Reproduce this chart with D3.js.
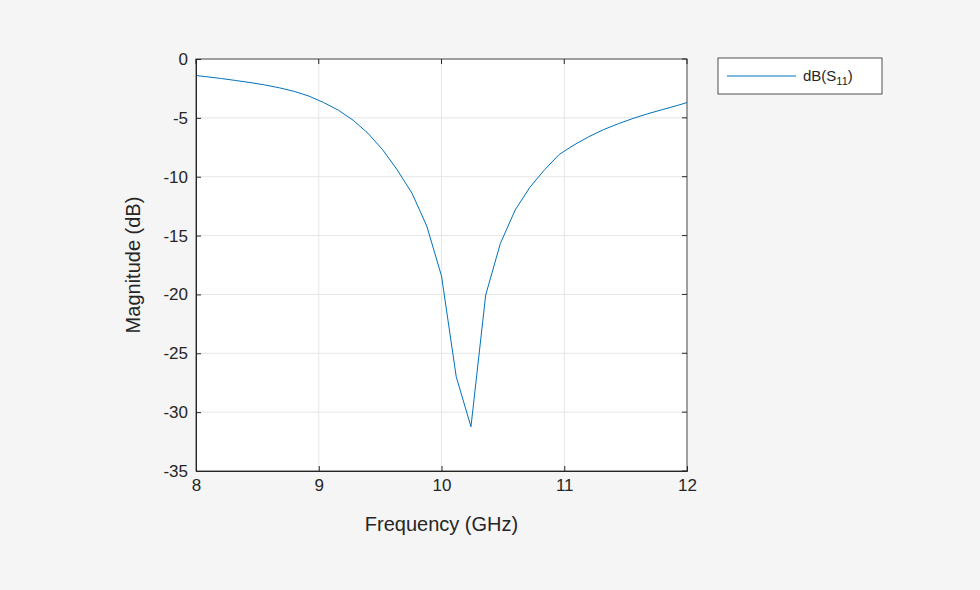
<!DOCTYPE html><html><head><meta charset="utf-8"><script src="https://cdn.jsdelivr.net/npm/d3@7"></script>
<style>body{margin:0;background:#f5f5f5}text{font-family:"Liberation Sans",Arial,sans-serif;fill:#262626}</style></head><body>
<svg id="c" width="980" height="590"></svg>
<script>
const freq=[8.0,8.08,8.2,8.32,8.44,8.56,8.68,8.8,8.92,9.04,9.16,9.28,9.4,9.52,9.64,9.76,9.88,10.0,10.12,10.24,10.36,10.48,10.6,10.72,10.84,10.96,11.08,11.2,11.32,11.44,11.56,11.68,11.8,11.92,12.0];
const s11=[-1.4,-1.5,-1.65,-1.82,-2.0,-2.2,-2.45,-2.75,-3.15,-3.7,-4.35,-5.2,-6.3,-7.7,-9.43,-11.41,-14.19,-18.43,-26.99,-31.24,-20.05,-15.66,-12.83,-10.9,-9.4,-8.1,-7.3,-6.6,-6.0,-5.5,-5.05,-4.65,-4.3,-3.95,-3.7];
const xTicks=[8,9,10,11,12];
const yTicks=[0,-5,-10,-15,-20,-25,-30,-35];
const svg=d3.select("#c");
const L=196,R=687,T=59,B=471;
const x=d3.scaleLinear().domain([8,12]).range([L,R]);
const y=d3.scaleLinear().domain([-35,0]).range([B,T]);
svg.append("rect").attr("x",L).attr("y",T).attr("width",R-L).attr("height",B-T).attr("fill","#fff");
const g=svg.append("g");
xTicks.forEach(t=>g.append("line").attr("x1",x(t)).attr("x2",x(t)).attr("y1",T).attr("y2",B).attr("stroke","#e6e6e6"));
yTicks.forEach(t=>g.append("line").attr("y1",y(t)).attr("y2",y(t)).attr("x1",L).attr("x2",R).attr("stroke","#e6e6e6"));
svg.append("path").datum(freq.map((f,i)=>[f,s11[i]])).attr("fill","none").attr("stroke","#0072bd").attr("stroke-width",1)
 .attr("d",d3.line().x(d=>x(d[0])).y(d=>y(d[1])));
const ax=svg.append("g").attr("transform",`translate(0,${B})`).call(d3.axisBottom(x).tickValues(xTicks).tickSize(-5).tickPadding(8).tickFormat(d3.format("d")));
const ay=svg.append("g").attr("transform",`translate(${L},0)`).call(d3.axisLeft(y).tickValues(yTicks).tickSize(-5).tickPadding(8).tickFormat(d=>d===0?"0":"-"+Math.abs(d)));
[ax,ay].forEach(a=>{a.selectAll("path").attr("stroke","#262626");a.selectAll("line").attr("stroke","#262626");a.selectAll("text").attr("font-size",17).style("fill","#262626")});
svg.append("rect").attr("x",L).attr("y",T).attr("width",R-L).attr("height",B-T).attr("fill","none").attr("stroke","#262626").attr("stroke-width",0.8);
// top/right ticks
xTicks.forEach(t=>svg.append("line").attr("x1",x(t)).attr("x2",x(t)).attr("y1",T).attr("y2",T+5).attr("stroke","#262626"));
yTicks.forEach(t=>svg.append("line").attr("y1",y(t)).attr("y2",y(t)).attr("x1",R).attr("x2",R-5).attr("stroke","#262626"));
svg.append("text").attr("x",(L+R)/2).attr("y",531).attr("text-anchor","middle").attr("font-size",20).text("Frequency (GHz)");
svg.append("text").attr("transform",`translate(140,${(T+B)/2}) rotate(-90)`).attr("text-anchor","middle").attr("font-size",20).text("Magnitude (dB)");
svg.append("rect").attr("x",718).attr("y",58).attr("width",164).attr("height",36).attr("fill","#fff").attr("stroke","#262626").attr("stroke-width",0.8);
svg.append("line").attr("x1",727).attr("x2",796).attr("y1",76).attr("y2",76).attr("stroke","#0072bd");
const lt=svg.append("text").attr("x",803).attr("y",81).attr("font-size",15).text("dB(S");
lt.append("tspan").attr("font-size",11).attr("dy",4).text("11");
lt.append("tspan").attr("dy",-4).text(")");
</script></body></html>
